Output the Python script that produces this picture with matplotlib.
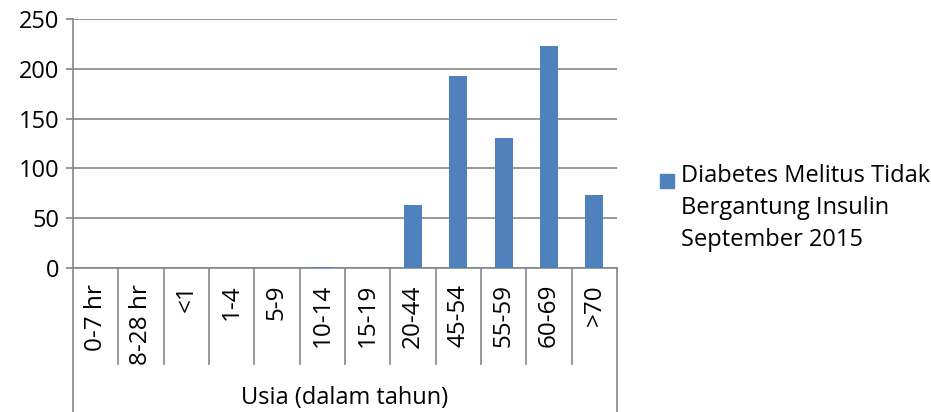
import matplotlib.pyplot as plt
from matplotlib.patches import Rectangle

plt.rcParams['font.family'] = ['Open Sans', 'DejaVu Sans']

categories = ["0-7 hr", "8-28 hr", "<1", "1-4", "5-9", "10-14", "15-19",
              "20-44", "45-54", "55-59", "60-69", ">70"]
values = [0, 0, 0, 0, 0, 1, 0, 63, 193, 131, 223, 73]
y_ticks = [0, 50, 100, 150, 200, 250]
series_label = "Diabetes Melitus Tidak\nBergantung Insulin\nSeptember 2015"
x_title = "Usia (dalam tahun)"

bar_color = "#4F81BD"
grid_color = "#868686"
fs = 17

fig = plt.figure(figsize=(9.31, 4.12), dpi=100)
ax = fig.add_axes([73 / 931, 1 - 268 / 412, (617 - 73) / 931, (268 - 19) / 412])

x = list(range(len(categories)))
ax.bar(x, values, width=0.4, color=bar_color, zorder=3)

ax.set_xlim(-0.5, len(categories) - 0.5)
ax.set_ylim(0, 250)
ax.set_yticks(y_ticks)
ax.set_yticklabels([str(v) for v in y_ticks], fontsize=fs)
ax.yaxis.grid(True, color=grid_color, linewidth=1.2, zorder=0)
ax.tick_params(axis='y', length=5, color=grid_color, width=1.2, pad=5)
ax.set_xticks([])

for s in ['top', 'right']:
    ax.spines[s].set_visible(False)
for s in ['left', 'bottom']:
    ax.spines[s].set_color(grid_color)
    ax.spines[s].set_linewidth(1.2)

# category labels and the table-like separators below the axis
inner = -(364 - 268) / 249
outer = -(412 - 268) / 249
tr = ax.get_xaxis_transform()
for i, lab in enumerate(categories):
    ax.text(i, -16 / 249, lab, transform=tr, rotation=90, ha='center', va='top',
            fontsize=fs + 0.5)
for b in range(len(categories) + 1):
    y_end = outer if b in (0, len(categories)) else inner
    ax.plot([b - 0.5, b - 0.5], [0, y_end], transform=tr, color=grid_color,
            linewidth=1.2, clip_on=False)

ax.text((len(categories) - 1) / 2, -(398 - 268) / 249, x_title, transform=tr,
        ha='center', va='center', fontsize=fs)

# legend
fig.patches.append(Rectangle((660 / 931, 1 - 188 / 412), 14 / 931, 14 / 412,
                             transform=fig.transFigure, color=bar_color))
fig.text(681 / 931, 1 - 164 / 412, series_label, ha='left', va='top',
         fontsize=fs, linespacing=1.45)

fig.savefig("out.png", dpi=100)
